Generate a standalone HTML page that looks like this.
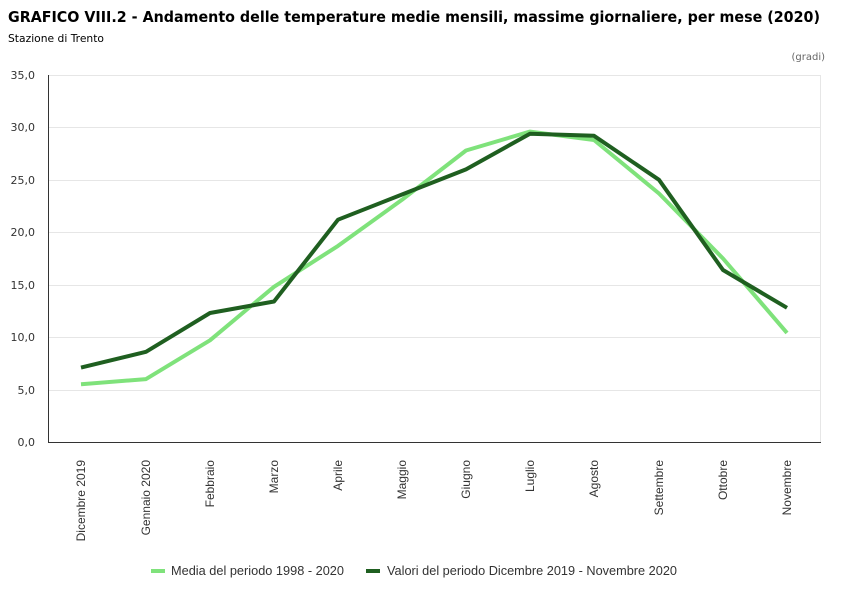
<!DOCTYPE html>
<html><head><meta charset="utf-8"><style>body{margin:0;background:#fff}svg{display:block}</style></head><body>
<svg width="850" height="600" xmlns="http://www.w3.org/2000/svg">
<text x="8" y="22" font-family="DejaVu Sans, Liberation Sans, sans-serif" font-weight="bold" font-size="15" textLength="812" lengthAdjust="spacingAndGlyphs" fill="#000">GRAFICO VIII.2 - Andamento delle temperature medie mensili, massime giornaliere, per mese (2020)</text>
<text x="8" y="42" font-family="DejaVu Sans, Liberation Sans, sans-serif" font-size="11" textLength="96" lengthAdjust="spacingAndGlyphs" fill="#000">Stazione di Trento</text>
<text x="825" y="60" text-anchor="end" font-family="DejaVu Sans, sans-serif" font-size="10" fill="#666">(gradi)</text>
<g stroke="#e6e6e6" stroke-width="1">
<line x1="49" x2="820" y1="75.5" y2="75.5"/><line x1="49" x2="820" y1="127.5" y2="127.5"/><line x1="49" x2="820" y1="180.5" y2="180.5"/><line x1="49" x2="820" y1="232.5" y2="232.5"/><line x1="49" x2="820" y1="285.5" y2="285.5"/><line x1="49" x2="820" y1="337.5" y2="337.5"/><line x1="49" x2="820" y1="390.5" y2="390.5"/>
<line x1="820.5" x2="820.5" y1="75" y2="442"/>
</g>
<line x1="48.5" x2="48.5" y1="75" y2="443" stroke="#333"/>
<line x1="48" x2="821" y1="442.5" y2="442.5" stroke="#333"/>
<g font-family="DejaVu Sans, sans-serif" font-size="11" fill="#333" text-anchor="end">
<text x="35" y="79">35,0</text><text x="35" y="131">30,0</text><text x="35" y="184">25,0</text><text x="35" y="236">20,0</text><text x="35" y="289">15,0</text><text x="35" y="341">10,0</text><text x="35" y="394">5,0</text><text x="35" y="446">0,0</text>
</g>
<g font-family="Liberation Sans, sans-serif" font-size="12" fill="#333" text-anchor="end">
<text transform="translate(85,460) rotate(-90)">Dicembre 2019</text>
<text transform="translate(150,460) rotate(-90)">Gennaio 2020</text>
<text transform="translate(214,460) rotate(-90)">Febbraio</text>
<text transform="translate(278,460) rotate(-90)">Marzo</text>
<text transform="translate(342,460) rotate(-90)">Aprile</text>
<text transform="translate(406,460) rotate(-90)">Maggio</text>
<text transform="translate(470,460) rotate(-90)">Giugno</text>
<text transform="translate(534,460) rotate(-90)">Luglio</text>
<text transform="translate(598,460) rotate(-90)">Agosto</text>
<text transform="translate(663,460) rotate(-90)">Settembre</text>
<text transform="translate(727,460) rotate(-90)">Ottobre</text>
<text transform="translate(791,460) rotate(-90)">Novembre</text>
</g>
<polyline fill="none" stroke="#7fe27b" stroke-width="4" stroke-linejoin="round" points="81,384.3 146,379.1 210,340.3 274,286.8 338,245.9 402,199.8 466,150.5 530,131.6 594,140.0 659,193.5 723,258.5 787,332.9"/>
<polyline fill="none" stroke="#1f5f20" stroke-width="4" stroke-linejoin="round" points="81,367.6 146,351.8 210,313.0 274,301.5 338,219.7 402,194.5 466,169.4 530,133.7 594,135.8 659,179.8 723,270.0 787,307.8"/>
<line x1="151" x2="165" y1="571" y2="571" stroke="#7fe27b" stroke-width="4"/>
<text x="171" y="575" font-family="Liberation Sans, sans-serif" font-size="12.5" textLength="173" lengthAdjust="spacingAndGlyphs" fill="#333">Media del periodo 1998 - 2020</text>
<line x1="366" x2="380" y1="571" y2="571" stroke="#1f5f20" stroke-width="4"/>
<text x="387" y="575" font-family="Liberation Sans, sans-serif" font-size="12.5" textLength="290" lengthAdjust="spacingAndGlyphs" fill="#333">Valori del periodo Dicembre 2019 - Novembre 2020</text>
</svg>
</body></html>
